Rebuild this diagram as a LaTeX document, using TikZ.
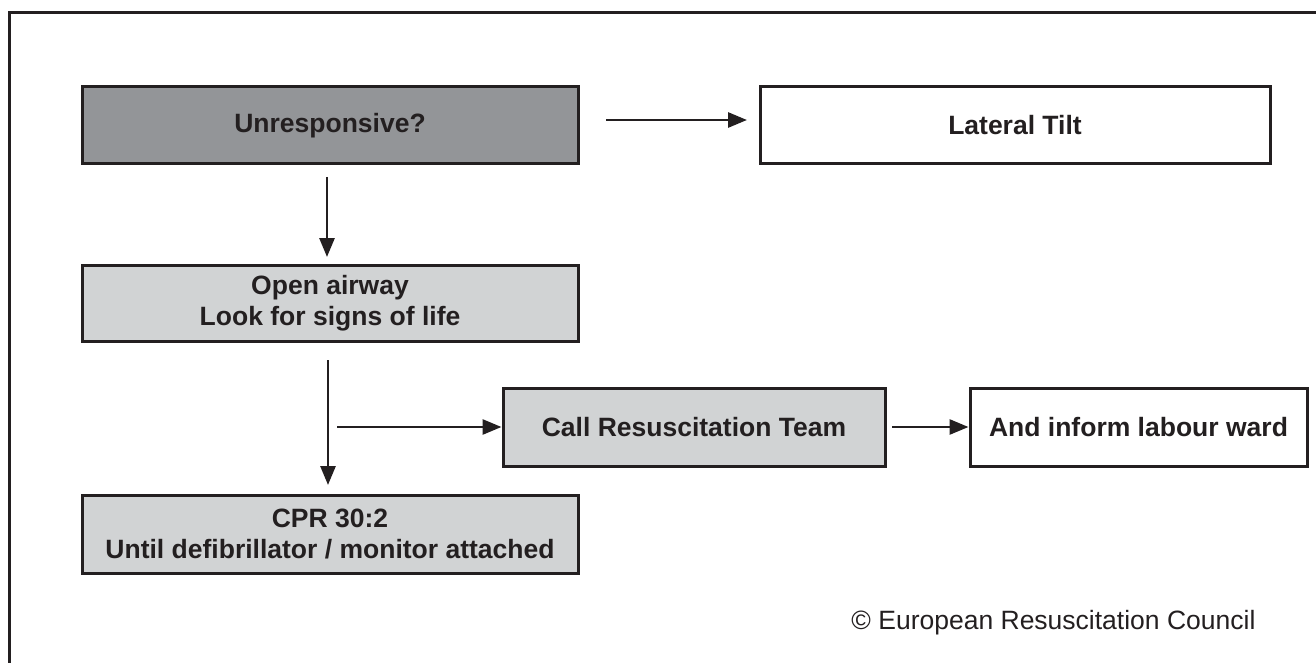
\documentclass[tikz,border=0pt]{standalone}
\usepackage{fontspec}
\setmainfont{Liberation Sans}
\usetikzlibrary{arrows.meta}
\definecolor{darkgr}{HTML}{939598}
\definecolor{lightgr}{HTML}{D1D3D4}
\definecolor{ink}{HTML}{231F20}
\begin{document}
\begin{tikzpicture}[x=1pt,y=-1pt,
  box/.style={draw=ink,line width=3pt,inner sep=0pt,align=center,font=\fontsize{26.5}{30.5}\selectfont\bfseries,text=ink},
  arr/.style={draw=ink,line width=2.8pt,-{Triangle[length=19pt,width=15pt]}}]
\useasboundingbox (0,0) rectangle (1316,663);
\draw[ink,line width=3pt] (9.5,12.5) rectangle (1330,680);
\node[box,fill=darkgr,minimum width=496pt,minimum height=77pt] (unr) at (330,125.5) {Unresponsive?};
\node[box,fill=white,minimum width=510pt,minimum height=77pt] (lat) at (1015,125.5) {Lateral Tilt};
\node[box,fill=lightgr,minimum width=496pt,minimum height=76pt] (open) at (330,303) {Open airway\\Look for signs of life};
\node[box,fill=lightgr,minimum width=382pt,minimum height=78pt] (call) at (694,427) {Call Resuscitation Team};
\node[box,fill=white,minimum width=337pt,minimum height=78pt] (inf) at (1138.5,427) {And inform labour ward};
\node[box,fill=lightgr,minimum width=496pt,minimum height=78pt] (cpr) at (330,534) {CPR 30:2\\Until defibrillator / monitor attached};
\node[text=ink,font=\fontsize{26.5}{30}\selectfont,anchor=east] (copy) at (1259,623) {© European Resuscitation Council};
\coordinate (a1) at (606,120);
\coordinate (a2) at (747,120);
\draw[arr] (a1) -- (a2);
\coordinate (b1) at (327,177);
\draw[arr] (b1) -- (327,257);
\coordinate (c1) at (328,360);
\draw[arr] (c1) -- (328,485);
\coordinate (d1) at (337,427);
\draw[arr] (d1) -- (call.west |- d1);
\coordinate (e1) at (892,427);
\draw[arr] (e1) -- (inf.west);
\end{tikzpicture}
\end{document}
